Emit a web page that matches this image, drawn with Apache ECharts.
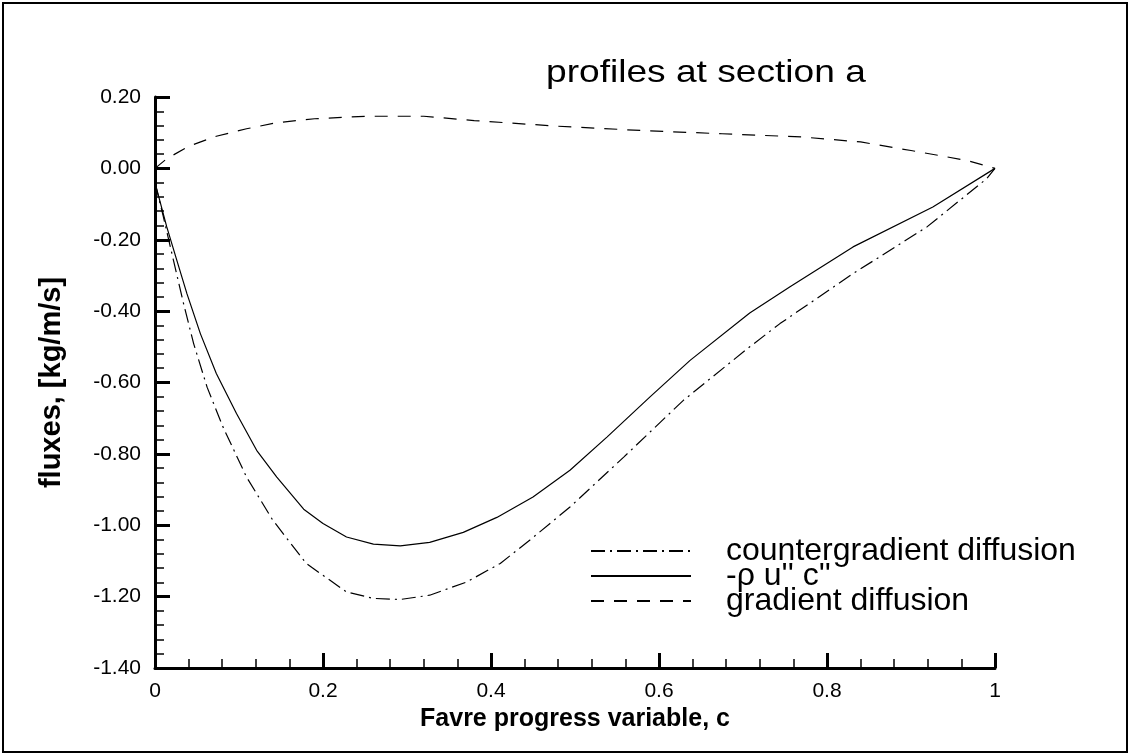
<!DOCTYPE html>
<html>
<head>
<meta charset="utf-8">
<script src="https://cdn.jsdelivr.net/npm/echarts@6/dist/echarts.min.js"></script>
<style>
html,body{margin:0;padding:0;background:#fff;}
#chart{width:1132px;height:753px;}
</style>
</head>
<body>
<div id="chart"></div>
<script>
// ---- data ----
const titleText = 'profiles at section a';
const xName = 'Favre progress variable, c';
const yName = 'fluxes, [kg/m/s]';
const seriesNames = ['countergradient diffusion', "-\u03c1 u'' c''", 'gradient diffusion'];

// countergradient diffusion (dash-dot)
const cgC = [0, 0.01, 0.022, 0.034, 0.046, 0.062, 0.081, 0.109, 0.14, 0.18, 0.228, 0.26, 0.292, 0.327, 0.371, 0.411, 0.446, 0.494, 0.558, 0.629, 0.708, 0.744, 0.831, 0.919, 0.99, 1.0];
const cgV = [-0.04, -0.136, -0.258, -0.379, -0.491, -0.613, -0.725, -0.865, -0.985, -1.107, -1.187, -1.205, -1.208, -1.196, -1.159, -1.107, -1.042, -0.949, -0.809, -0.65, -0.50, -0.435, -0.295, -0.164, -0.029, 0];

// -rho u'' c'' (solid)
const fxC = [0, 0.014, 0.026, 0.038, 0.054, 0.073, 0.097, 0.121, 0.145, 0.177, 0.2, 0.228, 0.26, 0.292, 0.327, 0.367, 0.407, 0.45, 0.494, 0.538, 0.589, 0.637, 0.708, 0.756, 0.831, 0.926, 1.0];
const fxV = [-0.04, -0.164, -0.258, -0.351, -0.463, -0.575, -0.687, -0.79, -0.865, -0.955, -0.995, -1.033, -1.053, -1.058, -1.048, -1.02, -0.978, -0.921, -0.846, -0.753, -0.641, -0.538, -0.405, -0.332, -0.22, -0.108, 0];

// gradient diffusion (dashed)
const grC = [0, 0.014, 0.04, 0.073, 0.109, 0.145, 0.19, 0.25, 0.32, 0.38, 0.48, 0.58, 0.675, 0.77, 0.84, 0.9, 0.967, 1.0];
const grV = [0, 0.027, 0.062, 0.09, 0.111, 0.128, 0.139, 0.146, 0.146, 0.134, 0.118, 0.106, 0.097, 0.088, 0.074, 0.05, 0.022, 0];

const xTicks = {min: 0, max: 1, interval: 0.2};
const yTicks = {min: -1.4, max: 0.2, interval: 0.2};

function pairs(xs, ys){ return xs.map((x,i)=>[x, ys[i]]); }

const chart = echarts.init(document.getElementById('chart'), null, {renderer:'canvas'});
const FONT = '"Liberation Sans", Arial, Helvetica, sans-serif';

const axisCommon = {
  axisLine: {show: true, onZero: false, lineStyle: {color: '#000', width: 3}},
  axisTick: {show: true, inside: true, length: 15, lineStyle: {color: '#000', width: 3}},
  minorTick: {show: true, splitNumber: 5, length: 9, lineStyle: {color: '#000', width: 1.5}},
  splitLine: {show: false},
  minorSplitLine: {show: false}
};

chart.setOption({
  animation: false,
  backgroundColor: '#fff',
  textStyle: {fontFamily: FONT},
  grid: {left: 155, right: 137, top: 97, bottom: 85, containLabel: false},
  xAxis: Object.assign({
    type: 'value',
    min: xTicks.min, max: xTicks.max, interval: xTicks.interval,
    name: xName, nameLocation: 'middle', nameGap: 38,
    nameTextStyle: {fontFamily: FONT, fontSize: 25, fontWeight: 'bold', color: '#000'},
    axisLabel: {color: '#000', fontSize: 21, fontFamily: FONT, margin: 13,
      formatter: v => String(+(+v).toFixed(1))}
  }, axisCommon),
  yAxis: Object.assign({
    type: 'value',
    min: yTicks.min, max: yTicks.max, interval: yTicks.interval,
    name: yName, nameLocation: 'middle', nameGap: 89,
    nameTextStyle: {fontFamily: FONT, fontSize: 29, fontWeight: 'bold', color: '#000'},
    axisLabel: {color: '#000', fontSize: 21, fontFamily: FONT, margin: 14,
      formatter: v => (+v).toFixed(2)}
  }, axisCommon),
  legend: {
    show: true,
    orient: 'vertical',
    left: 590, top: 535,
    padding: 0,
    itemWidth: 100, itemHeight: 14, itemGap: -7,
    itemStyle: {opacity: 0},
    data: seriesNames,
    selectedMode: false,
    textStyle: {fontFamily: FONT, fontSize: 32, color: '#000', padding: [0,0,0,30]}
  },
  graphic: [
    {type: 'rect', silent: true, z: 100,
     shape: {x: 3, y: 3, width: 1124, height: 749},
     style: {fill: 'none', stroke: '#000', lineWidth: 2}},
    {type: 'text', silent: true, z: 100, x: 546, y: 73, scaleX: 1.16,
     style: {text: titleText, font: '32px ' + FONT, fill: '#000', verticalAlign: 'middle', align: 'left'}}
  ],
  series: [
    {name: seriesNames[0], type: 'line', data: pairs(cgC, cgV), showSymbol: false, symbol: 'none',
     smooth: false, lineStyle: {color: '#000', width: 1.2, type: [14, 5, 2, 5]}, itemStyle: {color: '#000'}},
    {name: seriesNames[1], type: 'line', data: pairs(fxC, fxV), showSymbol: false, symbol: 'none',
     smooth: false, lineStyle: {color: '#000', width: 1.2, type: 'solid'}, itemStyle: {color: '#000'}},
    {name: seriesNames[2], type: 'line', data: pairs(grC, grV), showSymbol: false, symbol: 'none',
     smooth: false, lineStyle: {color: '#000', width: 1.2, type: [13, 10]}, itemStyle: {color: '#000'}}
  ]
});
</script>
</body>
</html>
